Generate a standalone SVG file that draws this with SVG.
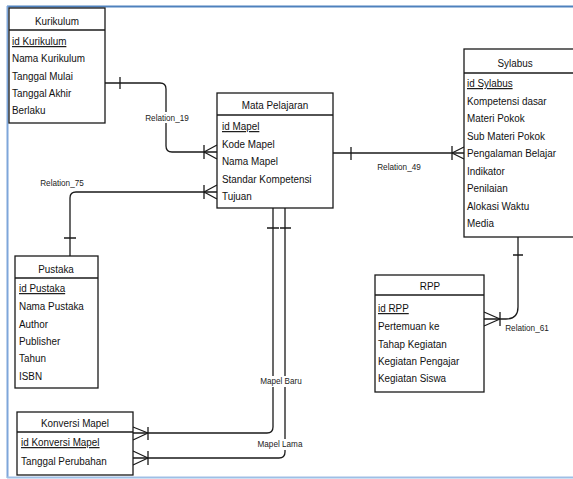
<svg xmlns="http://www.w3.org/2000/svg" width="573" height="479" viewBox="0 0 573 479">
<style>
.box{fill:#fff;stroke:#1a1a1a;stroke-width:1.3}
.div{stroke:#1a1a1a;stroke-width:1.3}
.t{font-family:"Liberation Sans",Arial,sans-serif;font-size:11.5px;fill:#111}
.ttl{text-anchor:middle}
.id{text-decoration:underline}
.c{fill:none;stroke:#1a1a1a;stroke-width:1.3}
.lbl{font-family:"Liberation Sans",Arial,sans-serif;font-size:9.5px;fill:#222;text-anchor:middle}
.bg{fill:#fff}
</style>
<rect x="0" y="0" width="573" height="479" fill="#fff"/>
<line x1="7" y1="6.5" x2="573" y2="6.5" stroke="#4f81bd" stroke-width="2"/>
<line x1="7.5" y1="6" x2="7.5" y2="478" stroke="#7ea6da" stroke-width="2"/>
<line x1="7" y1="477.5" x2="573" y2="477.5" stroke="#9fbfe6" stroke-width="2"/>

<g id="connectors">
  <!-- Relation_19 -->
  <path class="c" d="M105,83 H160 Q166,83 166,89 V146 Q166,152 172,152 H217"/>
  <path class="c" d="M120,77 V89 M204,152 L217,145 M204,152 L217,159 M204,145 V159"/>
  <rect class="bg" x="146" y="112" width="42" height="11"/>
  <!-- Relation_75 -->
  <path class="c" d="M217,192 H76 Q70,192 70,198 V256"/>
  <path class="c" d="M64,238 H76 M204,192 L217,185 M204,192 L217,199 M204,185 V199"/>
  <!-- Relation_49 -->
  <path class="c" d="M333,153 H464"/>
  <path class="c" d="M351,147 V160 M452,153 L464,147 M452,153 L464,159 M452,146 V160"/>
  <!-- Relation_61 -->
  <path class="c" d="M518,237 V307 Q518,319 506,319 H484"/>
  <path class="c" d="M513,255 H523 M500,319 L484,312 M500,319 L484,326 M500,312 V326"/>
  <!-- Mapel Baru -->
  <path class="c" d="M273,208 V427 Q273,433 267,433 H133"/>
  <path class="c" d="M267,228 H279 M148,433 L133,427 M148,433 L133,440 M148,427 V440"/>
  <!-- Mapel Lama -->
  <path class="c" d="M285,208 V452 Q285,458 279,458 H133"/>
  <path class="c" d="M280,228 H291 M148,458 L133,451 M148,458 L133,465 M148,451 V465"/>
  <rect class="bg" x="265" y="376" width="33" height="11"/>
  <rect class="bg" x="259" y="439" width="42" height="11"/>
  <g transform="scale(0.86,1)">
    <text class="lbl" x="194.19" y="121">Relation_19</text>
    <text class="lbl" x="72.09" y="186">Relation_75</text>
    <text class="lbl" x="463.95" y="170">Relation_49</text>
    <text class="lbl" x="612.79" y="331">Relation_61</text>
    <text class="lbl" x="326.74" y="384">Mapel Baru</text>
    <text class="lbl" x="325.58" y="447">Mapel Lama</text>
  </g>
</g>

<g id="kurikulum">
  <rect class="box" x="9" y="8" width="96" height="115"/>
  <line class="div" x1="9" y1="30" x2="105" y2="30"/>
  <g transform="scale(0.86,1)">
    <text class="t ttl" x="66.28" y="25">Kurikulum</text>
    <text class="t id" x="13.95" y="45">id Kurikulum</text>
    <text class="t" x="13.95" y="62">Nama Kurikulum</text>
    <text class="t" x="13.95" y="80">Tanggal Mulai</text>
    <text class="t" x="13.95" y="97">Tanggal Akhir</text>
    <text class="t" x="13.95" y="114">Berlaku</text>
  </g>
</g>

<g id="mata-pelajaran">
  <rect class="box" x="217" y="93" width="116" height="115"/>
  <line class="div" x1="217" y1="115" x2="333" y2="115"/>
  <g transform="scale(0.86,1)">
    <text class="t ttl" x="319.77" y="109">Mata Pelajaran</text>
    <text class="t id" x="258.14" y="130">id Mapel</text>
    <text class="t" x="258.14" y="148">Kode Mapel</text>
    <text class="t" x="258.14" y="165">Nama Mapel</text>
    <text class="t" x="258.14" y="183">Standar Kompetensi</text>
    <text class="t" x="258.14" y="200">Tujuan</text>
  </g>
</g>

<g id="sylabus">
  <rect class="box" x="464" y="49" width="112" height="188"/>
  <line class="div" x1="464" y1="73" x2="576" y2="73"/>
  <g transform="scale(0.86,1)">
    <text class="t ttl" x="598.84" y="67">Sylabus</text>
    <text class="t id" x="543.02" y="87">id Sylabus</text>
    <text class="t" x="543.02" y="105">Kompetensi dasar</text>
    <text class="t" x="543.02" y="122">Materi Pokok</text>
    <text class="t" x="543.02" y="140">Sub Materi Pokok</text>
    <text class="t" x="543.02" y="157">Pengalaman Belajar</text>
    <text class="t" x="543.02" y="175">Indikator</text>
    <text class="t" x="543.02" y="192">Penilaian</text>
    <text class="t" x="543.02" y="210">Alokasi Waktu</text>
    <text class="t" x="543.02" y="227">Media</text>
  </g>
</g>

<g id="pustaka">
  <rect class="box" x="15" y="256" width="83" height="132"/>
  <line class="div" x1="15" y1="278" x2="98" y2="278"/>
  <g transform="scale(0.86,1)">
    <text class="t ttl" x="65.12" y="273">Pustaka</text>
    <text class="t id" x="22.09" y="292">id Pustaka</text>
    <text class="t" x="22.09" y="310">Nama Pustaka</text>
    <text class="t" x="22.09" y="328">Author</text>
    <text class="t" x="22.09" y="345">Publisher</text>
    <text class="t" x="22.09" y="362">Tahun</text>
    <text class="t" x="22.09" y="380">ISBN</text>
  </g>
</g>

<g id="rpp">
  <rect class="box" x="375" y="275" width="109" height="117"/>
  <line class="div" x1="375" y1="295" x2="484" y2="295"/>
  <g transform="scale(0.86,1)">
    <text class="t ttl" x="500" y="290">RPP</text>
    <text class="t id" x="439.53" y="312">id RPP</text>
    <text class="t" x="439.53" y="330">Pertemuan ke</text>
    <text class="t" x="439.53" y="348">Tahap Kegiatan</text>
    <text class="t" x="439.53" y="365">Kegiatan Pengajar</text>
    <text class="t" x="439.53" y="382">Kegiatan Siswa</text>
  </g>
</g>

<g id="konversi-mapel">
  <rect class="box" x="17" y="412" width="116" height="63"/>
  <line class="div" x1="17" y1="432" x2="133" y2="432"/>
  <g transform="scale(0.86,1)">
    <text class="t ttl" x="87.21" y="427">Konversi Mapel</text>
    <text class="t id" x="24.42" y="446">id Konversi Mapel</text>
    <text class="t" x="24.42" y="465">Tanggal Perubahan</text>
  </g>
</g>
</svg>
